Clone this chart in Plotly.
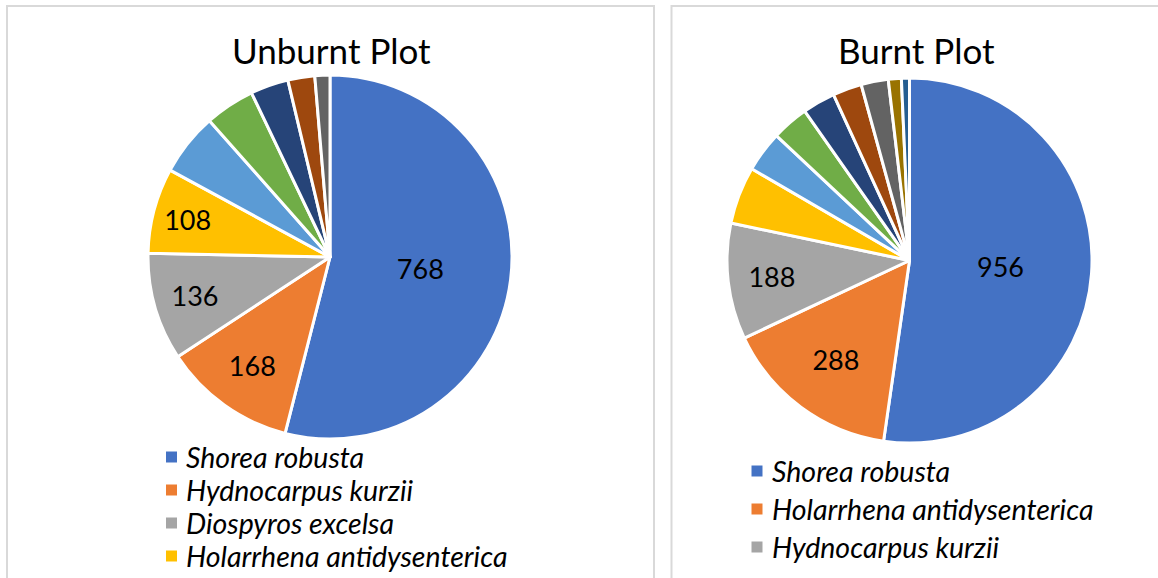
import plotly.graph_objects as go

# ---- data ----
unburnt_species = ["Shorea robusta", "Hydnocarpus kurzii", "Diospyros excelsa",
                   "Holarrhena antidysenterica", "Species 5", "Species 6",
                   "Species 7", "Species 8", "Species 9"]
unburnt_values = [768, 168, 136, 108, 79, 63, 48, 34, 19]
unburnt_labeled = 4  # number of slices that carry a value label / legend entry

burnt_species = ["Shorea robusta", "Holarrhena antidysenterica", "Hydnocarpus kurzii",
                 "Species 4", "Species 5", "Species 6", "Species 7", "Species 8",
                 "Species 9", "Species 10", "Species 11"]
burnt_values = [956, 288, 188, 93, 66, 60, 53, 47, 44, 21, 13]
burnt_labeled = 3

office_colors = ["#4472C4", "#ED7D31", "#A5A5A5", "#FFC000", "#5B9BD5", "#70AD47",
                 "#264478", "#9E480E", "#636363", "#997300", "#255E91"]

W, H = 1158, 578
FONT = "Lato"


def px(x):
    return x / W


def py(y):
    return 1 - y / H


fig = go.Figure()


def add_pie(species, values, n_lab, dom_x, dom_y):
    text = [str(v) if i < n_lab else "" for i, v in enumerate(values)]
    fig.add_trace(go.Pie(
        labels=species, values=values, text=text, textinfo="text",
        textposition="inside", insidetextorientation="horizontal",
        textfont=dict(family=FONT, size=27, color="#000000"),
        sort=False, direction="clockwise", rotation=0,
        marker=dict(colors=office_colors[:len(values)], line=dict(color="white", width=3)),
        domain=dict(x=[px(dom_x[0]), px(dom_x[1])], y=[py(dom_y[1]), py(dom_y[0])]),
        showlegend=False, hoverinfo="label+value",
    ))


add_pie(unburnt_species, unburnt_values, unburnt_labeled, (148, 512), (75, 439))
add_pie(burnt_species, burnt_values, burnt_labeled, (727, 1092), (78, 443))

shapes = []
annotations = []

# panel borders
shapes.append(dict(type="rect", xref="paper", yref="paper",
                   x0=px(7), x1=px(654), y0=py(590), y1=py(6),
                   line=dict(color="#D9D9D9", width=2), fillcolor="rgba(0,0,0,0)"))
shapes.append(dict(type="rect", xref="paper", yref="paper",
                   x0=px(671.5), x1=px(1175), y0=py(590), y1=py(6),
                   line=dict(color="#D9D9D9", width=2), fillcolor="rgba(0,0,0,0)"))

# titles
annotations.append(dict(text="Unburnt Plot", x=px(331), y=py(50), xref="paper", yref="paper",
                        showarrow=False, xanchor="center", yanchor="middle",
                        font=dict(family=FONT, size=35, color="#000000")))
annotations.append(dict(text="Burnt Plot", x=px(916), y=py(50), xref="paper", yref="paper",
                        showarrow=False, xanchor="center", yanchor="middle",
                        font=dict(family=FONT, size=35, color="#000000")))


def add_legend(species, n, sq_x, txt_x, y0, dy):
    for i in range(n):
        yc = y0 + i * dy
        shapes.append(dict(type="rect", xref="paper", yref="paper",
                           x0=px(sq_x - 5.5), x1=px(sq_x + 5.5),
                           y0=py(yc + 5.5), y1=py(yc - 5.5),
                           line=dict(width=0), fillcolor=office_colors[i]))
        annotations.append(dict(text="<i>" + species[i] + "</i>", x=px(txt_x), y=py(yc),
                                xref="paper", yref="paper", showarrow=False,
                                xanchor="left", yanchor="middle",
                                font=dict(family=FONT, size=28.5, color="#000000")))


add_legend(unburnt_species, unburnt_labeled, 171.5, 184, 457, 33)
add_legend(burnt_species, burnt_labeled, 757, 770, 471, 38)

fig.update_layout(
    width=W, height=H, margin=dict(l=0, r=0, t=0, b=0),
    paper_bgcolor="white", plot_bgcolor="white",
    shapes=shapes, annotations=annotations,
)

fig.write_html("out.html", config={"displayModeBar": False},
               post_script="document.body.style.margin='0';")
